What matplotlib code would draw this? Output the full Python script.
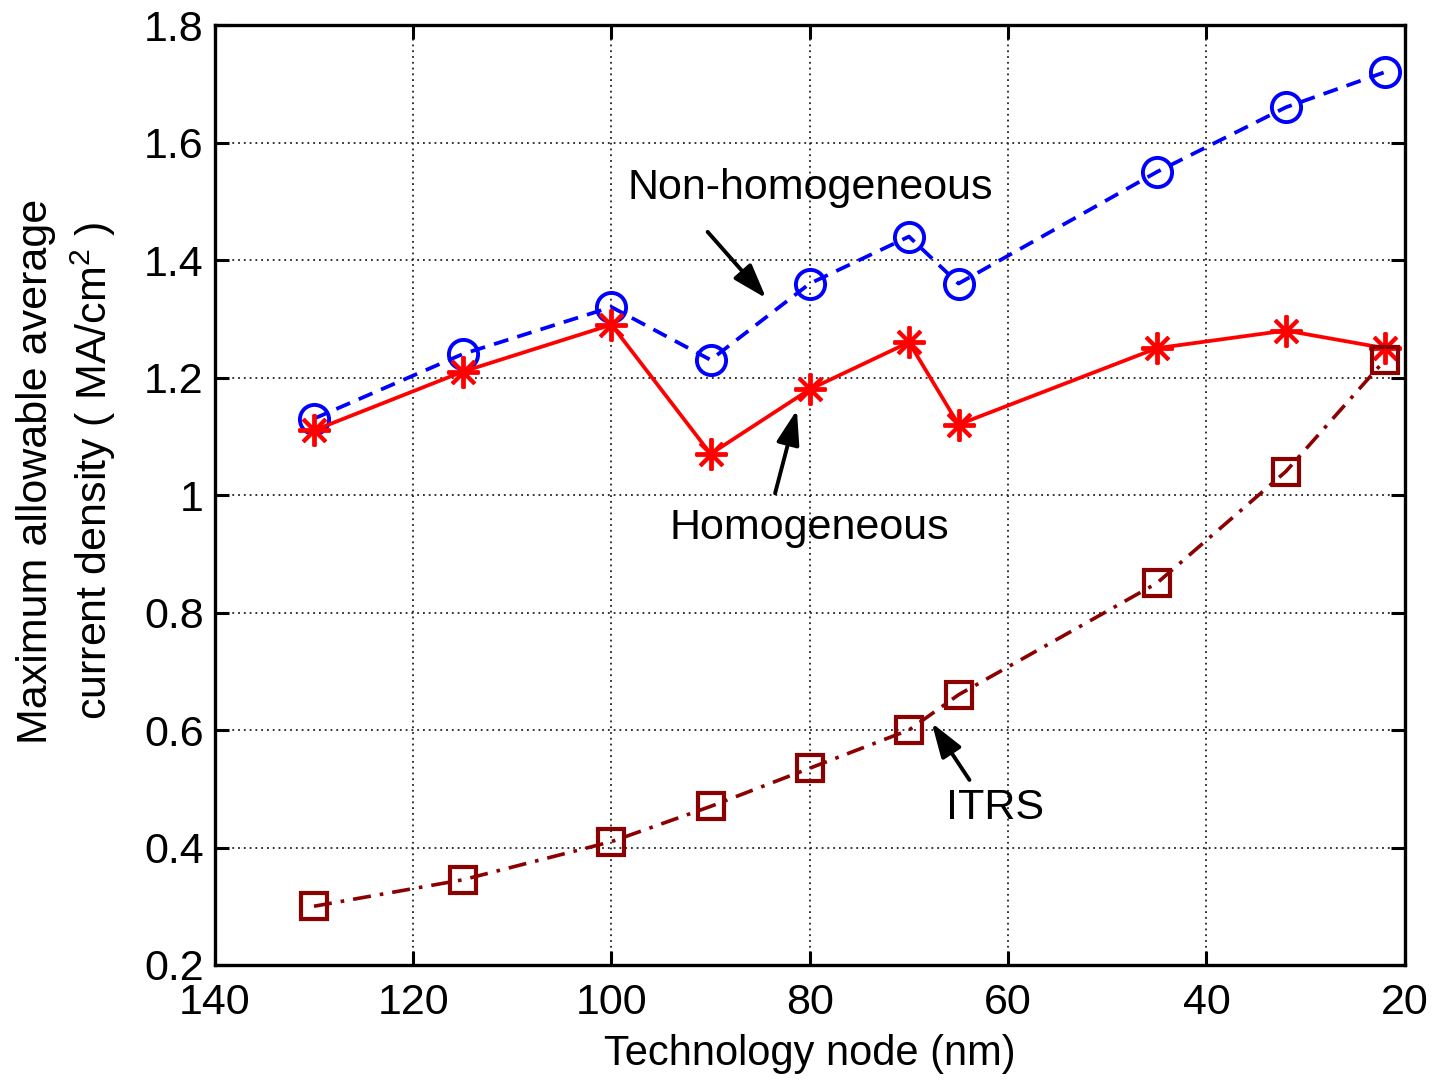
import matplotlib
matplotlib.use("Agg")
import matplotlib.pyplot as plt

plt.rcParams['font.family'] = ['Liberation Sans', 'DejaVu Sans']
plt.rcParams['mathtext.fontset'] = 'custom'
plt.rcParams['mathtext.rm'] = 'Liberation Sans'

# technology nodes (nm)
nodes = [130, 115, 100, 90, 80, 70, 65, 45, 32, 22]

# max allowable average current density (MA/cm^2)
non_homog = [1.13, 1.24, 1.32, 1.23, 1.36, 1.44, 1.36, 1.55, 1.66, 1.72]
homog = [1.11, 1.21, 1.29, 1.07, 1.18, 1.26, 1.12, 1.25, 1.28, 1.25]
itrs = [0.30, 0.345, 0.41, 0.47, 0.535, 0.60, 0.66, 0.85, 1.04, 1.23]

xticks = [140, 120, 100, 80, 60, 40, 20]
yticks = [0.2, 0.4, 0.6, 0.8, 1.0, 1.2, 1.4, 1.6, 1.8]
ytick_labels = ['0.2', '0.4', '0.6', '0.8', '1', '1.2', '1.4', '1.6', '1.8']

fs = 31

fig = plt.figure(figsize=(14.32, 10.91), dpi=100)
ax = fig.add_axes([0.150, 0.1155, 0.831, 0.8615])

ax.plot(nodes, non_homog, '--o', color='blue', lw=2.7, ms=21, mew=2.8,
        mfc='none', dashes=(4, 2.5))
ax.plot(nodes, homog, '-', color='red', lw=2.7, marker=(8, 2, 0), ms=23,
        mew=2.8)
ax.plot(nodes, itrs, '-.s', color='#8b0000', lw=2.6, ms=19, mew=3,
        mfc='none', dashes=(5, 2.5, 1, 2.5))

ax.set_xlim(140, 20)
ax.set_ylim(0.2, 1.8)
ax.set_xticks(xticks)
ax.set_xticklabels([str(t) for t in xticks])
ax.set_yticks(yticks)
ax.set_yticklabels(ytick_labels)

ax.grid(True, color='#222222', linestyle=(0, (1, 2.2)), lw=1.3)
ax.tick_params(direction='in', length=10, width=2.2, top=True, right=True,
               labelsize=fs)
ax.tick_params(axis='x', pad=13)
ax.tick_params(axis='y', pad=8)
for s in ax.spines.values():
    s.set_linewidth(2.4)

ax.set_xlabel('Technology node (nm)', fontsize=30, labelpad=8)
ax.set_ylabel('Maximum allowable average\ncurrent density ( MA/cm$^2$ )',
              fontsize=fs, linespacing=1.35)
ax.yaxis.set_label_coords(-0.081, 0.525)

arrow = dict(arrowstyle='-|>,head_length=0.6,head_width=0.2', color='black',
             lw=2.8, mutation_scale=35, shrinkA=0, shrinkB=0)
ax.text(80, 1.523, 'Non-homogeneous', fontsize=fs, ha='center', va='center')
ax.annotate('', xy=(84.4, 1.335), xytext=(90.3, 1.448), arrowprops=arrow)
ax.text(80, 0.944, 'Homogeneous', fontsize=fs, ha='center', va='center')
ax.annotate('', xy=(81.3, 1.145), xytext=(83.5, 1.003), arrowprops=arrow)
ax.text(61.3, 0.467, 'ITRS', fontsize=fs, ha='center', va='center')
ax.annotate('', xy=(67.7, 0.612), xytext=(63.9, 0.515), arrowprops=arrow)

fig.savefig('out.png', dpi=100)
